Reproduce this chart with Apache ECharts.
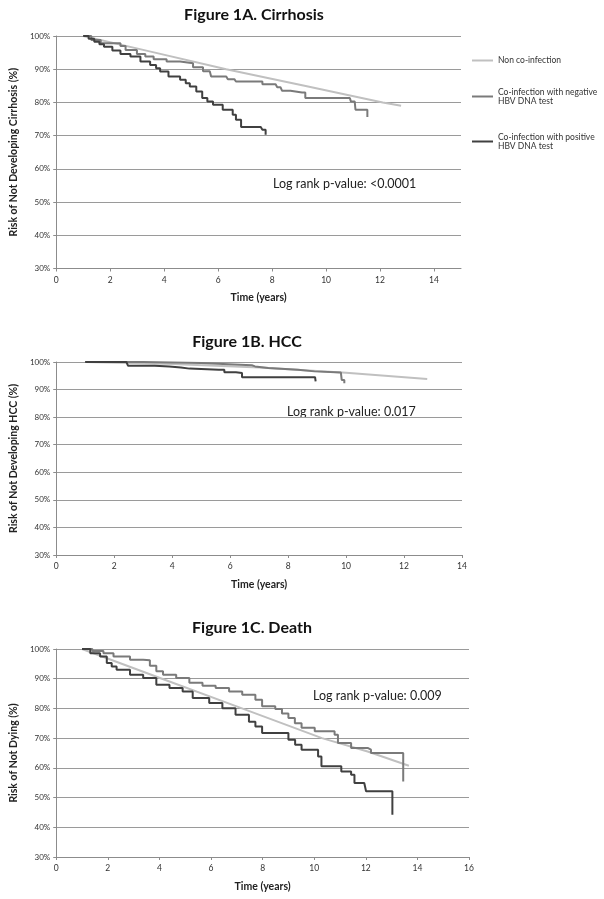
<!DOCTYPE html>
<html>
<head>
<meta charset="utf-8">
<script src="https://cdn.jsdelivr.net/npm/echarts@6/dist/echarts.min.js"></script>
<style>
html,body{margin:0;padding:0;background:#fff;}
#chart{width:604px;height:899px;}
</style>
</head>
<body>
<div id="chart"></div>
<script>
// ---------- data (time in years, survival in %) ----------
const seriesNames = ['Non co-infection', 'Co-infection with negative HBV DNA test', 'Co-infection with positive HBV DNA test'];
const panelTitles = ['Figure 1A. Cirrhosis', 'Figure 1B. HCC', 'Figure 1C. Death'];
const yAxisNames = ['Risk of Not Developing Cirrhosis (%)', 'Risk of Not Developing HCC (%)', 'Risk of Not Dying (%)'];
const xAxisName = 'Time (years)';
const pValueTexts = ['Log rank p-value: <0.0001', 'Log rank p-value: 0.017', 'Log rank p-value: 0.009'];
const xMaxes = [15, 14, 16];
const yTicks = [30, 40, 50, 60, 70, 80, 90, 100];

// Figure 1A. Cirrhosis
const cirrhosisNon = [[1,100],[3.5,95.3],[6.3,90],[9.2,85],[12.1,80],[12.78,79.0]];
const cirrhosisNeg = [[1,100],[1.3,98.8],[1.65,97.8],[2.38,97.0],[2.57,95.8],[2.99,94.6],[3.3,93.8],[3.61,93.0],[4.09,92.3],[4.59,91.8],[5.07,90.6],[5.44,89.4],[5.69,89.0],[5.74,87.8],[6.30,87.8],[6.36,87.0],[6.60,87.0],[6.66,86.3],[7.52,86.3],[7.64,85.5],[8.13,85.5],[8.19,84.6],[8.31,84.6],[8.37,83.5],[8.68,83.5],[8.74,83.0],[9.11,83.0],[9.23,81.3],[10.88,81.3],[10.92,80.3],[11.06,79.8],[11.09,77.8],[11.53,77.8],[11.53,75.6]];
const cirrhosisPos = [[1,100],[1.2,99.2],[1.41,98.3],[1.6,97.5],[1.77,96.8],[2.08,95.6],[2.38,94.6],[2.75,93.8],[3.12,92.3],[3.48,91.3],[3.7,90.3],[3.85,89.3],[4.16,87.8],[4.59,86.8],[4.8,85.8],[4.95,84.8],[5.19,83.3],[5.41,81.3],[5.6,80.3],[5.81,79.3],[6.17,77.8],[6.54,76.3],[6.66,74.8],[6.85,72.6],[7.58,72.6],[7.64,71.8],[7.76,71.8],[7.76,70.3]];

// Figure 1B. HCC
const hccNon = [[1,100],[4,99.3],[7,98.0],[10,96.1],[12.8,93.8]];
const hccNeg = [[1,100],[3,99.6],[5,99.2],[5.95,98.8],[6.75,98.4],[6.86,97.8],[7.32,97.2],[8.34,96.6],[8.91,96.2],[9.82,95.8],[9.85,93.5],[9.94,93.5],[9.94,92.3]];
const hccPos = [[1,100],[2.42,99.5],[2.48,98.6],[3.4,98.4],[3.9,98.0],[4.3,97.6],[4.6,97.2],[5.61,97.2],[5.8,96.3],[6.2,96.0],[6.41,94.5],[8.93,94.5],[8.95,93.0]];

// Figure 1C. Death
const deathNon = [[1,100],[4.1,90],[7.2,80],[10.3,70],[12.07,65.5],[13.67,60.7]];
const deathNeg = [[1,100],[1.4,99.3],[1.83,98.6],[2.22,97.5],[2.86,96.4],[3.37,96.2],[3.63,94.4],[3.88,92.5],[4.14,91.3],[4.65,90.2],[5.16,88.6],[5.67,87.6],[6.18,86.9],[6.70,85.7],[7.21,84.6],[7.72,82.9],[7.98,80.7],[8.49,79.8],[8.75,78.3],[9.0,76.8],[9.25,75.0],[9.51,73.5],[10.02,72.3],[10.79,71.1],[10.92,68.4],[11.43,66.7],[12.07,66.1],[12.2,65.0],[13.45,65.0],[13.45,55.4]];
const deathPos = [[1,100],[1.32,98.6],[1.70,97.5],[1.96,95.3],[2.15,94.1],[2.34,93.0],[2.86,91.3],[3.37,90.2],[3.88,88.0],[4.39,86.9],[4.90,85.7],[5.29,83.5],[5.93,81.8],[6.44,80.1],[6.95,77.9],[7.47,75.5],[7.72,73.9],[7.98,71.7],[8.62,71.7],[9.0,69.5],[9.26,67.8],[9.51,66.1],[10.02,66.1],[10.15,63.8],[10.28,60.5],[10.79,60.5],[11.05,58.8],[11.43,57.7],[11.56,54.9],[11.94,54.9],[12.01,52.1],[13.03,52.1],[13.03,44.2]];

// ---------- styling / layout ----------
const FONT = 'Lato, "Liberation Sans", sans-serif';
const colors = ['#c0c0c0', '#7a7a7a', '#404040'];
const grids = [
  {left: 52, top: 36, width: 409, height: 232.5},
  {left: 52, top: 362, width: 410, height: 193},
  {left: 52, top: 649, width: 417, height: 208}
];
const titlePos = [[254, 15], [247, 341.5], [252, 628]];
const pTextPos = [[273, 184], [287, 412], [313, 696]];
const panelData = [
  [cirrhosisNon, cirrhosisNeg, cirrhosisPos],
  [hccNon, hccNeg, hccPos],
  [deathNon, deathNeg, deathPos]
];

const xAxes = [], yAxes = [], series = [], graphics = [];
for (let p = 0; p < 3; p++) {
  xAxes.push({
    type: 'value', gridIndex: p, min: 0, max: xMaxes[p], interval: 2,
    name: xAxisName, nameLocation: 'middle', nameGap: 24,
    nameTextStyle: {fontFamily: FONT, fontWeight: 'bold', fontSize: 10.5, color: '#222'},
    axisLine: {show: true, lineStyle: {color: '#8c8c8c', width: 1}},
    axisTick: {show: true, length: 3, lineStyle: {color: '#8c8c8c'}},
    axisLabel: {fontFamily: FONT, fontSize: 8.5, color: '#333', margin: 7, showMaxLabel: xMaxes[p] % 2 === 0},
    splitLine: {show: false}
  });
  yAxes.push({
    type: 'value', gridIndex: p, min: 30, max: 100, interval: 10,
    name: yAxisNames[p], nameLocation: 'middle', nameGap: 33,
    nameTextStyle: {fontFamily: FONT, fontWeight: 'bold', fontSize: 10.5, color: '#222'},
    axisLine: {show: true, lineStyle: {color: '#8c8c8c', width: 1}},
    axisTick: {show: true, length: 3, lineStyle: {color: '#8c8c8c'}},
    axisLabel: {fontFamily: FONT, fontSize: 8, color: '#333', margin: 6, formatter: '{value}%'},
    splitLine: {show: true, lineStyle: {color: '#9a9a9a', width: 1}}
  });
  for (let s = 0; s < 3; s++) {
    series.push({
      type: 'line', name: seriesNames[s], xAxisIndex: p, yAxisIndex: p,
      data: panelData[p][s], showSymbol: false, symbol: 'none', smooth: false,
      step: s === 0 ? false : 'end',
      color: colors[s], lineStyle: {color: colors[s], width: 2}, z: 2 + s,
      animation: false
    });
  }
  graphics.push({
    type: 'text', x: titlePos[p][0], y: titlePos[p][1],
    style: {text: panelTitles[p], fontFamily: FONT, fontWeight: 'bold', fontSize: 16, fill: '#111', align: 'center', verticalAlign: 'middle'}
  });
  graphics.push({
    type: 'text', x: pTextPos[p][0], y: pTextPos[p][1],
    style: {text: pValueTexts[p], fontFamily: FONT, fontSize: 12.5, fill: '#222', align: 'left', verticalAlign: 'middle'}
  });
}

const chart = echarts.init(document.getElementById('chart'), null, {renderer: 'canvas'});
chart.setOption({
  animation: false,
  backgroundColor: '#fff',
  grid: grids,
  xAxis: xAxes,
  yAxis: yAxes,
  legend: {
    orient: 'vertical', left: 472, top: 56, padding: 0, itemGap: 18,
    itemWidth: 21, itemHeight: 2, icon: 'rect', selectedMode: false,
    textStyle: {fontFamily: FONT, fontSize: 8.5, color: '#333', lineHeight: 9},
    formatter: function (name) { return name.replace(' HBV', '\nHBV'); },
    data: [
      {name: seriesNames[0]},
      {name: seriesNames[1], textStyle: {padding: [9, 0, 0, 0]}},
      {name: seriesNames[2], textStyle: {padding: [9, 0, 0, 0]}}
    ]
  },
  graphic: graphics,
  series: series
});
</script>
</body>
</html>
